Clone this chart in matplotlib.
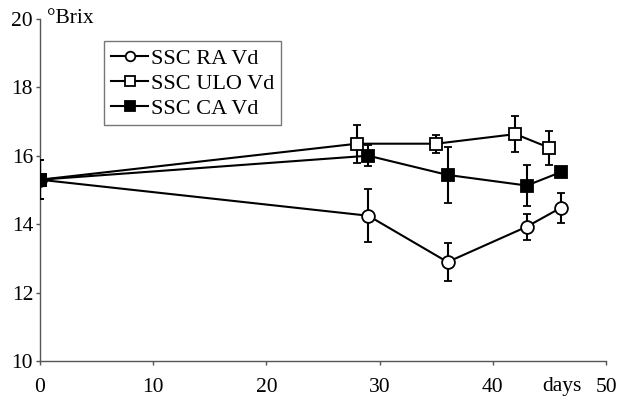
import matplotlib
matplotlib.use("Agg")
import matplotlib.pyplot as plt

plt.rcParams['font.family'] = ['Liberation Serif', 'DejaVu Serif']

# days and soluble solids (°Brix) with error bars
ra_days = [0, 29, 36, 43, 46]
ra_ssc = [15.3, 14.25, 12.9, 13.93, 14.48]
ra_err = [0.57, 0.77, 0.55, 0.38, 0.43]

ulo_days = [0, 28, 35, 42, 45]
ulo_ssc = [15.3, 16.35, 16.35, 16.63, 16.23]
ulo_err = [0.57, 0.55, 0.26, 0.52, 0.5]

ca_days = [0, 29, 36, 43, 46]
ca_ssc = [15.3, 16.0, 15.44, 15.13, 15.52]
ca_err = [0.57, 0.3, 0.81, 0.59, 0.1]

fig = plt.figure(figsize=(6.22, 3.99), dpi=100)
ax = fig.add_axes([0.0643, 0.094, 0.91, 0.8596])

common = dict(color='black', lw=1.5, ms=9.2, mew=1.3, capsize=3, elinewidth=1.5, capthick=1.5)
ax.errorbar(ra_days, ra_ssc, yerr=ra_err, fmt='-o', mfc='white', label='SSC RA Vd', zorder=3, **common)
ax.errorbar(ulo_days, ulo_ssc, yerr=ulo_err, fmt='-s', mfc='white', label='SSC ULO Vd', zorder=4, **common)
ax.errorbar(ca_days, ca_ssc, yerr=ca_err, fmt='-s', mfc='black', label='SSC CA Vd', zorder=5, **common)

ax.set_xlim(0, 50)
ax.set_ylim(10, 20)
ax.set_xticks(range(0, 51, 10))
ax.set_yticks(range(10, 21, 2))
for s in ['top', 'right']:
    ax.spines[s].set_visible(False)
for s in ['left', 'bottom']:
    ax.spines[s].set_color('#555555')
    ax.spines[s].set_linewidth(1.0)
ax.tick_params(colors='#555555', labelcolor='black', labelsize=15.5, length=3, width=1, pad=2)
ax.tick_params(axis='x', pad=9)

ax.text(0.6, 20, '°Brix', fontsize=15.5, va='center', ha='left')
ax.text(44.4, -0.045, 'days', fontsize=15.5, va='top', ha='left',
        transform=ax.get_xaxis_transform())

handles, labels = ax.get_legend_handles_labels()
handles = [h[0] for h in handles]
leg = ax.legend(handles, labels, loc='upper left', bbox_to_anchor=(0.113, 0.933),
                fontsize=16, frameon=True, fancybox=False, handlelength=1.7,
                markerscale=0.75, handletextpad=0.1, borderpad=0.3,
                labelspacing=0.2, borderaxespad=0)
leg.get_frame().set_edgecolor('#555555')
leg.get_frame().set_linewidth(1.0)

fig.savefig('out.png', dpi=100)
